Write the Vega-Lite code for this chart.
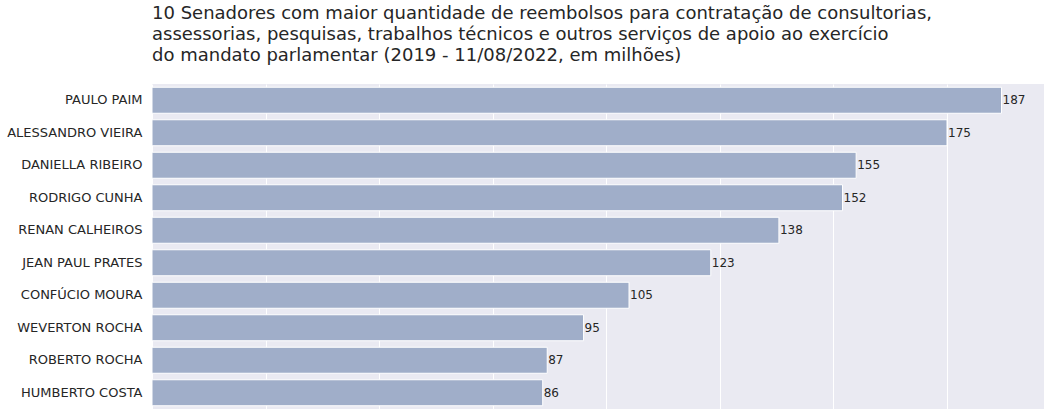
{
  "$schema": "https://vega.github.io/schema/vega-lite/v6.json",
  "width": 892,
  "height": 325,
  "autosize": {"type": "none"},
  "padding": {"left": 152, "top": 84, "right": 7, "bottom": 7},
  "background": "white",
  "config": {
    "view": {"fill": "#eaeaf2", "stroke": null},
    "font": "DejaVu Sans"
  },
  "title": {
    "text": [
      "10 Senadores com maior quantidade de reembolsos para contratação de consultorias,",
      "assessorias, pesquisas, trabalhos técnicos e outros serviços de apoio ao exercício",
      "do mandato parlamentar (2019 - 11/08/2022, em milhões)"
    ],
    "anchor": "start",
    "frame": "group",
    "font": "DejaVu Sans",
    "fontSize": 18,
    "fontWeight": "normal",
    "color": "#262626",
    "lineHeight": 21,
    "offset": 19
  },
  "data": {
    "values": [
      {"senador": "PAULO PAIM", "valor": 187},
      {"senador": "ALESSANDRO VIEIRA", "valor": 175},
      {"senador": "DANIELLA RIBEIRO", "valor": 155},
      {"senador": "RODRIGO CUNHA", "valor": 152},
      {"senador": "RENAN CALHEIROS", "valor": 138},
      {"senador": "JEAN PAUL PRATES", "valor": 123},
      {"senador": "CONFÚCIO MOURA", "valor": 105},
      {"senador": "WEVERTON ROCHA", "valor": 95},
      {"senador": "ROBERTO ROCHA", "valor": 87},
      {"senador": "HUMBERTO COSTA", "valor": 86}
    ]
  },
  "encoding": {
    "y": {
      "field": "senador",
      "type": "nominal",
      "sort": null,
      "scale": {"paddingInner": 0.2, "paddingOuter": 0.1},
      "axis": {
        "title": null,
        "domain": false,
        "ticks": false,
        "labelFontSize": 13,
        "labelColor": "#262626",
        "labelPadding": 10,
        "grid": false
      }
    },
    "x": {
      "field": "valor",
      "type": "quantitative",
      "scale": {"domain": [0, 196.35], "nice": false, "zero": true},
      "axis": {
        "title": null,
        "labels": false,
        "ticks": false,
        "domain": false,
        "values": [0, 25, 50, 75, 100, 125, 150, 175],
        "grid": true,
        "gridColor": "white",
        "gridWidth": 1
      }
    }
  },
  "layer": [
    {
      "mark": {"type": "bar", "color": "#a0aec9", "stroke": "white", "strokeWidth": 1}
    },
    {
      "mark": {"type": "text", "align": "left", "baseline": "middle", "dx": 1, "fontSize": 12, "color": "#262626"},
      "encoding": {"text": {"field": "valor", "type": "quantitative"}}
    }
  ]
}
